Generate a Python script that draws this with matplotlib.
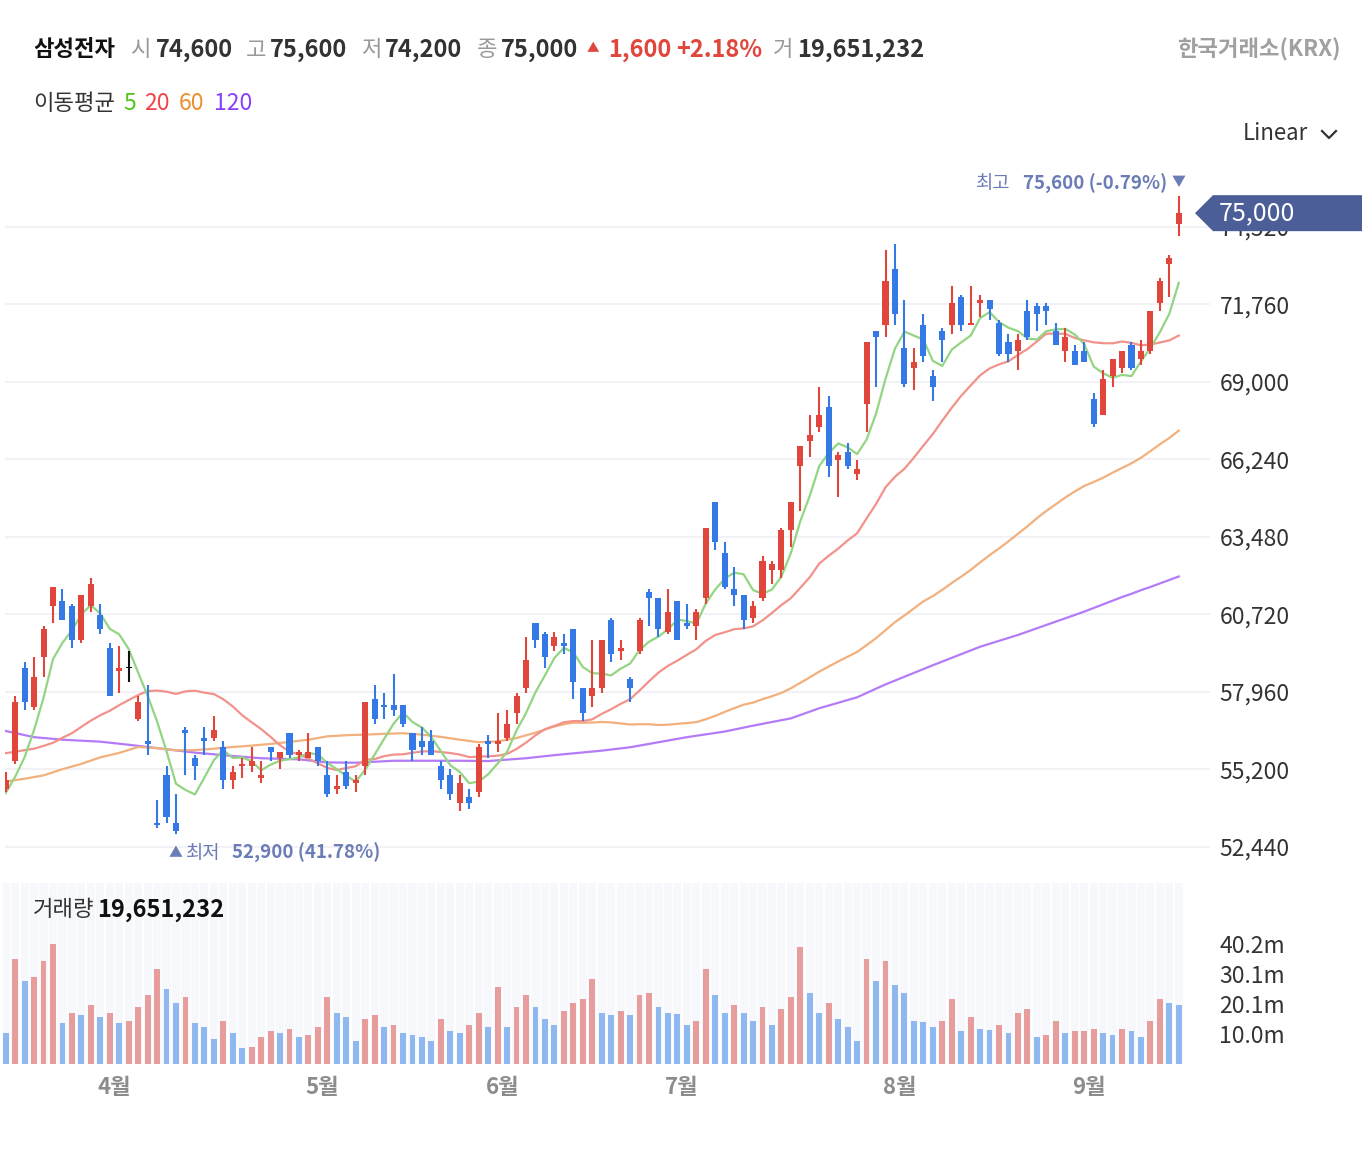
import numpy as np
import pandas as pd
import matplotlib
matplotlib.use("Agg")
import matplotlib.pyplot as plt
from matplotlib.patches import Polygon
from matplotlib.lines import Line2D

plt.rcParams['font.family'] = ['Noto Sans CJK KR', 'DejaVu Sans']

# ---- data ----
stock_name = "삼성전자"
exchange = "한국거래소(KRX)"
month_labels = ['4월', '5월', '6월', '7월', '8월', '9월']
month_start = [12, 34, 53, 72, 95, 115]   # index of first trading day

opens = [54500, 55500, 58800, 57400, 59200, 61000, 61200, 61000, 59800, 61000,
         60700, 59500, 58700, 58800, 57000, 56200, 53300, 55000, 53300, 56600,
         55600, 56300, 56300, 56000, 54800, 55300, 55300, 54900, 56000, 55600,
         56500, 55700, 55600, 56000, 55000, 54500, 55100, 54700, 55300, 57700,
         57500, 57500, 57500, 56500, 56200, 56200, 55300, 55000, 54000, 54200,
         54400, 56200, 56100, 56300, 57200, 58100, 60400, 60000, 59600, 59700,
         60200, 58100, 57800, 58100, 60500, 59400, 58400, 59400, 61500, 61300,
         60100, 61200, 60400, 60300, 61300, 64700, 62900, 61600, 61400, 60600,
         61300, 62300, 62300, 63700, 66000, 66900, 67400, 68100, 66200, 66500,
         65700, 68200, 70800, 71000, 73000, 70200, 69500, 71000, 69200, 70800,
         71000, 72000, 71000, 71800, 71900, 71100, 70400, 70100, 71500, 71700,
         71700, 70800, 70100, 70100, 70100, 68400, 67800, 69200, 69500, 70300,
         69800, 70100, 71800, 73200, 74600]
highs = [55100, 57800, 59000, 59200, 60300, 61700, 61600, 61100, 61400, 62000,
         61100, 59700, 59600, 59400, 57800, 58200, 54100, 55300, 54300, 56700,
         55700, 56700, 57100, 56200, 55300, 55600, 56000, 55500, 56000, 55800,
         56500, 55900, 56500, 56000, 55500, 55000, 55500, 55000, 57600, 58200,
         57900, 58600, 57500, 56500, 56700, 56600, 55500, 55200, 55000, 54500,
         56100, 56400, 57200, 57300, 57900, 59900, 60400, 60100, 60100, 60000,
         60200, 58100, 59800, 59800, 60600, 59800, 58500, 60600, 61600, 61300,
         61600, 61200, 61100, 60900, 63800, 64700, 63300, 62400, 61400, 61200,
         62800, 62600, 63800, 64700, 66700, 67800, 68800, 68500, 66500, 66800,
         66200, 70400, 70800, 73700, 73900, 71900, 70200, 71400, 69400, 70900,
         72400, 72100, 72400, 72100, 71900, 71200, 70700, 70700, 71900, 71800,
         71800, 71100, 70900, 70300, 70400, 68600, 69400, 69800, 70100, 70400,
         70500, 71500, 72700, 73500, 75600]
lows = [54400, 55400, 57300, 57300, 58500, 60400, 60500, 59500, 59700, 60800,
        60000, 57800, 57900, 58300, 56900, 55700, 53100, 53300, 52900, 55000,
        54800, 55700, 56200, 54500, 54500, 54900, 55100, 54700, 55500, 55200,
        55600, 55500, 55600, 55300, 54200, 54300, 54500, 54400, 55000, 56800,
        57000, 57100, 56700, 55500, 55700, 55700, 54500, 54100, 53700, 53800,
        54200, 55600, 55800, 56200, 56800, 57900, 59500, 58800, 59400, 59300,
        57700, 56900, 57400, 57900, 59000, 59100, 57600, 59300, 60300, 59900,
        60000, 59800, 60200, 59800, 61100, 63000, 61600, 61000, 60200, 60400,
        61200, 61800, 62000, 63100, 64400, 66300, 67200, 65600, 64900, 65900,
        65500, 67200, 68800, 70600, 71000, 68800, 68700, 69700, 68300, 69700,
        70700, 70800, 71000, 71300, 71200, 69900, 69700, 69400, 70500, 70800,
        71000, 70300, 69700, 69600, 69700, 67400, 67800, 68800, 69300, 69400,
        69600, 70000, 71500, 72000, 74200]
closes = [54800, 57600, 57600, 58500, 60200, 61700, 60500, 59800, 61400, 61800,
          60200, 57800, 58800, 58800, 57600, 56100, 53200, 53500, 53000, 56500,
          55300, 56200, 56600, 54800, 55100, 55400, 55500, 55000, 55800, 55800,
          55700, 55800, 55800, 55500, 54300, 54600, 54600, 54800, 57600, 57000,
          57400, 57300, 56800, 55900, 56000, 55700, 54800, 54300, 54700, 54000,
          56000, 56100, 56200, 56800, 57800, 59100, 59800, 59200, 59900, 59600,
          58300, 57200, 58100, 59800, 59300, 59500, 58100, 60500, 61300, 60200,
          60800, 59800, 60300, 60800, 63800, 63300, 61700, 61400, 60500, 61000,
          62600, 62500, 63700, 64700, 66700, 67100, 67800, 66000, 66400, 66000,
          65900, 70400, 70600, 72600, 71400, 68900, 69700, 69900, 68800, 70500,
          71800, 71000, 71100, 71900, 71600, 70000, 70000, 70500, 70600, 71400,
          71500, 70300, 70600, 69600, 69700, 67500, 69100, 69800, 70100, 69500,
          70100, 71500, 72600, 73400, 75000]
# volume in millions of shares
volumes_m = [10.3, 35.1, 27.7, 29.0, 34.4, 40.16, 13.6, 17.0, 16.3, 19.7,
             15.6, 17.0, 13.6, 14.3, 19.0, 23.0, 31.7, 25.0, 20.3, 22.3,
             13.6, 12.3, 8.3, 14.3, 10.3, 5.5, 5.7, 8.9, 10.9, 10.3,
             11.6, 8.9, 9.6, 12.3, 22.3, 17.0, 15.6, 7.6, 15.0, 16.3,
             12.3, 13.0, 10.3, 9.6, 8.9, 7.6, 15.0, 10.9, 10.3, 13.0,
             17.0, 12.3, 25.7, 12.3, 19.0, 23.0, 19.0, 15.0, 13.0, 17.6,
             20.3, 21.7, 28.4, 17.0, 16.3, 17.6, 16.3, 23.0, 23.7, 19.0,
             17.0, 16.8, 13.0, 14.3, 31.7, 23.0, 17.0, 19.7, 17.0, 14.3,
             19.0, 13.0, 18.3, 22.3, 39.1, 23.7, 17.0, 20.3, 15.0, 12.3,
             7.6, 35.1, 27.7, 34.4, 26.4, 23.7, 14.3, 14.1, 12.3, 14.3,
             21.7, 10.9, 15.6, 11.6, 11.4, 13.0, 10.3, 17.0, 18.3, 8.9,
             9.6, 14.3, 10.3, 10.9, 11.0, 11.6, 10.3, 9.6, 11.6, 10.9,
             8.9, 14.3, 21.7, 20.3, 19.651232]

# moving averages at the left edge need history outside the chart
ma5_head = [54350, 54930, 55630, 56600]
ma20_head = [55770, 55820, 55880, 55930, 56030, 56140, 56320, 56480, 56710, 56930,
             57120, 57280, 57480, 57660, 57840, 57980, 58000, 57960, 57880]
ma60_head_idx = list(range(0, 59, 2))
ma60_head = [54760, 54860, 54980, 55200, 55390, 55620, 55780, 55990, 55950, 55870,
             55880, 55930, 55990, 56040, 56100, 56170, 56250, 56370, 56410, 56430,
             56460, 56480, 56430, 56350, 56250, 56160, 56190, 56310, 56500, 56720]
ma120_head_idx = [0, 3, 6, 10, 13, 17, 20, 24, 27, 31, 34, 37, 41, 44, 48, 51,
                  55, 58, 63, 66, 72, 76, 79, 83, 86, 90, 93, 98, 103, 107, 114, 118]
ma120_head = [56560, 56340, 56250, 56180, 56070, 55910, 55790, 55670, 55590, 55550,
              55440, 55430, 55500, 55500, 55500, 55490, 55590, 55700, 55860, 55980,
              56340, 56540, 56750, 57010, 57370, 57760, 58220, 58900, 59560, 59980,
              60810, 61330]
price_ticks = [52440, 55200, 57960, 60720, 63480, 66240, 69000, 71760, 74520]

# ---- derived ----
o = np.array(opens, float); h = np.array(highs, float)
l = np.array(lows, float); c = np.array(closes, float)
vol = np.array(volumes_m) * 1e6
n = len(c)
x = np.arange(n)

cs = pd.Series(c)
ma5 = cs.rolling(5).mean().to_numpy(); ma5[:4] = ma5_head
ma20 = cs.rolling(20).mean().to_numpy(); ma20[:19] = ma20_head
x60 = np.r_[ma60_head_idx, np.arange(59, n)]
y60 = np.r_[ma60_head, cs.rolling(60).mean().to_numpy()[59:]]
x120 = np.r_[ma120_head_idx, np.arange(119, n)]
y120 = np.r_[ma120_head, cs.rolling(120).mean().to_numpy()[119:]]

UP, DOWN, FLAT = '#e0463c', '#3479e5', '#111111'
cand_col = np.where(c > o, UP, np.where(c < o, DOWN, FLAT))
vol_up = np.r_[False, vol[1:] > vol[:-1]]
vol_col = np.where(vol_up, '#e69d9c', '#8fb8f1')

W, H = 1364, 1160
def fx(px): return px / W
def fy(py): return 1 - py / H

fig = plt.figure(figsize=(W / 100, H / 100), dpi=100)
fig.patch.set_facecolor('white')

# ---- price panel ----
ax = fig.add_axes([fx(5), fy(870), fx(1210) - fx(5), fy(160) - fy(870)])
ax.set_xlim(-0.074, 127.3)
ax.set_ylim(51610, 76893)
for s in ax.spines.values():
    s.set_visible(False)
ax.set_xticks([])
ax.set_yticks(price_ticks)
ax.set_yticklabels([f"{v:,}" for v in price_ticks])
ax.yaxis.tick_right()
ax.tick_params(axis='y', length=0, pad=7, labelsize=16.5, labelcolor='#333333')
ax.grid(axis='y', color='#f1f1f6', lw=1.4)
ax.set_axisbelow(True)

ax.plot(x120, y120, color='#b47bf7', lw=1.6, zorder=2)
ax.plot(x60, y60, color='#f2b07d', lw=1.6, zorder=2)
ax.plot(x, ma20, color='#f2928b', lw=1.6, zorder=2)
ax.plot(x, ma5, color='#93d583', lw=1.6, zorder=2)

ax.vlines(x, l, h, colors=cand_col, lw=1.5, zorder=3)
body_lo = np.minimum(o, c)
body_h = np.maximum(np.abs(c - o), 45)
ax.bar(x, body_h, bottom=body_lo, width=0.64, color=cand_col, zorder=4)

# high / low markers
hi_i = int(np.argmax(h)); lo_i = int(np.argmin(l))
last = c[-1]
note_col = '#6b7cb6'
ax.annotate('▼', xy=(hi_i, h[hi_i]), xytext=(0, 10), textcoords='offset points',
            ha='center', va='center', fontsize=10, color=note_col)
ax.annotate(f"{h[hi_i]:,.0f} ({(last - h[hi_i]) / h[hi_i] * 100:.2f}%)",
            xy=(hi_i, h[hi_i]), xytext=(-8.5, 9), textcoords='offset points',
            ha='right', va='center', fontsize=13.5, fontweight='bold', color=note_col)
ax.annotate('최고', xy=(hi_i, h[hi_i]), xytext=(-121, 9), textcoords='offset points',
            ha='right', va='center', fontsize=13.5, color=note_col)
ax.annotate('▲', xy=(lo_i, l[lo_i]), xytext=(0, -14), textcoords='offset points',
            ha='center', va='center', fontsize=10, color=note_col)
ax.annotate('최저', xy=(lo_i, l[lo_i]), xytext=(7, -14), textcoords='offset points',
            ha='left', va='center', fontsize=13.5, color=note_col)
ax.annotate(f"{l[lo_i]:,.0f} ({(last - l[lo_i]) / l[lo_i] * 100:.2f}%)",
            xy=(lo_i, l[lo_i]), xytext=(40, -14), textcoords='offset points',
            ha='left', va='center', fontsize=13.5, fontweight='bold', color=note_col)

# ---- volume panel ----
ax2 = fig.add_axes([fx(3), fy(1064), fx(1183) - fx(3), fy(883) - fy(1064)])
ax2.set_xlim(-0.285, 124.45)
vtop = vol.max() * 181 / 120
ax2.set_ylim(0, vtop)
for s in ax2.spines.values():
    s.set_visible(False)
ax2.bar(x, vtop, width=0.86, color='#f6f8fc', zorder=0)
ax2.bar(x, vol, width=0.62, color=vol_col, zorder=2)
vt = vol.max() * np.array([0.25, 0.5, 0.75, 1.0])
ax2.set_yticks(vt)
ax2.set_yticklabels([f"{v / 1e6:.1f}m" for v in vt])
ax2.yaxis.tick_right()
ax2.tick_params(axis='y', length=0, pad=26, labelsize=16.5, labelcolor='#333333')
ax2.set_xticks(np.array(month_start) - 0.5)
ax2.set_xticklabels(month_labels, fontsize=16, fontweight='bold', color='#8c8c8c')
ax2.tick_params(axis='x', length=0, pad=9)

fig.text(fx(33), fy(910), '거래량', fontsize=16, color='#333333', va='center')
fig.text(fx(97), fy(910), f"{int(round(vol[-1])):,}", fontsize=17, fontweight='bold',
         color='#111111', va='center')

# ---- header ----
gray = '#999999'; dark = '#333333'; red = '#e0463c'
chg = c[-1] - c[-2]
pct = chg / c[-2] * 100
hy = fy(50)
fig.text(fx(33), hy, stock_name, fontsize=16, fontweight='bold', color='#111111', va='center')
for lab, val, px_lab, px_val in [('시', o[-1], 131, 156), ('고', h[-1], 246, 270),
                                  ('저', l[-1], 361, 385), ('종', c[-1], 477, 501)]:
    fig.text(fx(px_lab), hy, lab, fontsize=16, color=gray, va='center')
    fig.text(fx(px_val), hy, f"{val:,.0f}", fontsize=17, fontweight='bold', color=dark, va='center')
fig.text(fx(587), fy(49), '▲', fontsize=9, color=red, va='center')
fig.text(fx(608), hy, f"{chg:,.0f}", fontsize=17, fontweight='bold', color=red, va='center')
fig.text(fx(676), hy, f"+{pct:.2f}%", fontsize=17, fontweight='bold', color=red, va='center')
fig.text(fx(773), hy, '거', fontsize=16, color=gray, va='center')
fig.text(fx(797), hy, f"{int(round(vol[-1])):,}", fontsize=17, fontweight='bold', color=dark, va='center')
fig.text(fx(1341), hy, exchange, fontsize=16, fontweight='bold', color='#a0a0a0', va='center', ha='right')

my = fy(104)
fig.text(fx(33), my, '이동평균', fontsize=16, color=dark, va='center')
for lab, col, px in [('5', '#52c41a', 123), ('20', '#f5424a', 144),
                     ('60', '#f08c2a', 179), ('120', '#8a3ffc', 214)]:
    fig.text(fx(px), my, lab, fontsize=16.5, color=col, va='center')

fig.text(fx(1243), fy(134), 'Linear', fontsize=16, color=dark, va='center')
fig.add_artist(Line2D([fx(1322), fx(1329), fx(1336)], [fy(131), fy(138), fy(131)],
                      transform=fig.transFigure, color=dark, lw=1.6))

# ---- last price tag (covers the top tick label, as in the app) ----
fig.canvas.draw()
tag_y = ax.transData.transform((0, last))[1]
ty = tag_y / H
pts = [(fx(1195), ty), (fx(1213), ty + 18 / H), (fx(1362), ty + 18 / H),
       (fx(1362), ty - 18 / H), (fx(1213), ty - 18 / H)]
fig.add_artist(Polygon(pts, closed=True, transform=fig.transFigure,
                       facecolor='#4b5e98', edgecolor='none', zorder=5))
fig.text(fx(1219), ty, f"{last:,.0f}", fontsize=18, fontweight='medium', color='white',
         va='center', zorder=6)

fig.savefig('out.png', dpi=100, facecolor='white')
